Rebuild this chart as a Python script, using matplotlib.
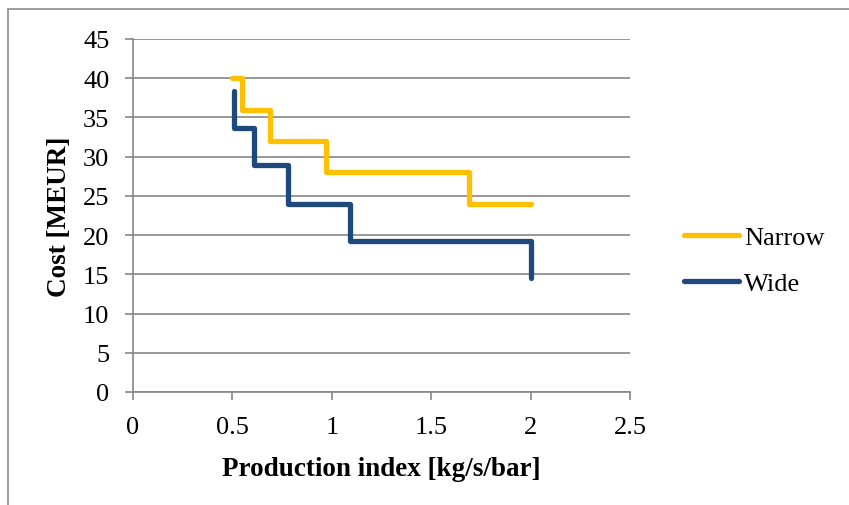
import matplotlib.pyplot as plt
from matplotlib.patches import Rectangle

# step curves, cost vs production index
narrow_x = [0.50, 0.55, 0.55, 0.69, 0.69, 0.97, 0.97, 1.69, 1.69, 2.00]
narrow_y = [40.0, 40.0, 36.0, 36.0, 32.0, 32.0, 28.0, 28.0, 24.0, 24.0]

wide_x = [0.51, 0.51, 0.61, 0.61, 0.78, 0.78, 1.09, 1.09, 2.00, 2.00]
wide_y = [38.4, 33.6, 33.6, 28.9, 28.9, 24.0, 24.0, 19.2, 19.2, 14.5]

x_ticks = [0, 0.5, 1, 1.5, 2, 2.5]
x_labels = ["0", "0.5", "1", "1.5", "2", "2.5"]
y_ticks = list(range(0, 50, 5))

plt.rcParams['font.family'] = ['Liberation Serif', 'DejaVu Serif']

fig = plt.figure(figsize=(8.49, 5.06), dpi=100)
ax = fig.add_axes([133 / 849, 1 - 393 / 506, (630 - 133) / 849, (393 - 40) / 506])

# outer chart border
fig.patches.append(Rectangle((8 / 849, -0.1), 1.2, 1.1 - 10 / 506, transform=fig.transFigure,
                             fill=False, edgecolor="#8c8c8c", linewidth=1.2))

ax.plot(narrow_x, narrow_y, color="#FFC000", linewidth=3.8, solid_capstyle="round",
        solid_joinstyle="round", label="Narrow", zorder=3)
ax.plot(wide_x, wide_y, color="#1F497D", linewidth=3.8, solid_capstyle="round",
        solid_joinstyle="round", label="Wide", zorder=3)

ax.set_xlim(0, 2.5)
ax.set_ylim(0, 45)
ax.set_xticks(x_ticks)
ax.set_xticklabels(x_labels)
ax.set_yticks(y_ticks)
ax.grid(axis="y", color="#868686", linewidth=1.2)
ax.set_axisbelow(True)

for s in ["top", "right"]:
    ax.spines[s].set_visible(False)
for s in ["left", "bottom"]:
    ax.spines[s].set_color("#868686")
    ax.spines[s].set_linewidth(1.2)

ax.tick_params(axis="both", direction="out", length=6, width=1.2, color="#868686",
               labelsize=19)
ax.tick_params(axis="y", pad=11)
ax.tick_params(axis="x", pad=11)

ax.set_xlabel("Production index [kg/s/bar]", fontsize=19.5, fontweight="bold", labelpad=13)
ax.set_ylabel("Cost [MEUR]", fontsize=19.5, fontweight="bold", labelpad=8)

ax.legend(loc="center left", bbox_to_anchor=(684 / 849, 1 - 261.5 / 506),
          bbox_transform=fig.transFigure, frameon=False, fontsize=19,
          handlelength=2.1, handletextpad=0.18, labelspacing=0.87,
          borderaxespad=0, borderpad=0)

fig.savefig("out.png", dpi=100)
